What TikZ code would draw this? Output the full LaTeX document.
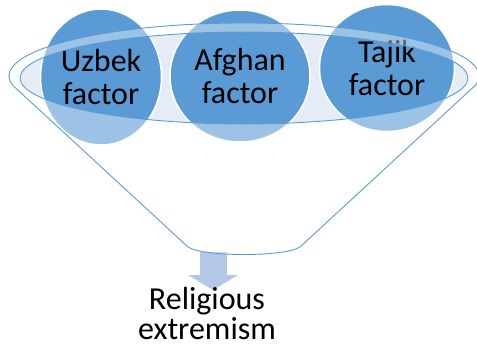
\documentclass[tikz,border=0pt]{standalone}
\usepackage{fontspec}
\setmainfont{Carlito}
\usetikzlibrary{shapes.geometric, arrows.meta}
\definecolor{factorblue}{RGB}{91,155,213}
\definecolor{rimfill}{RGB}{230,236,246}
\definecolor{arrowblue}{RGB}{180,199,231}

\begin{document}
\begin{tikzpicture}[x=1pt, y=-1pt,
    factor/.style={ellipse, draw=white, line width=1.5pt, fill=factorblue, inner sep=0pt,
      align=center, font=\fontsize{32}{33}\selectfont},
    rim/.style={draw=factorblue, line width=0.9pt}]
  \useasboundingbox (0,0) rectangle (477,349);

  % mouth of the funnel
  \fill[rimfill] (244,78) ellipse [x radius=224, y radius=46];

  \node[factor, minimum width=121pt, minimum height=136pt] (uzbek)  at (101,77) {Uzbek\\factor};
  \node[factor, minimum width=140pt, minimum height=132pt] (afghan) at (240,76) {Afghan\\factor};
  \node[factor, minimum width=135pt, minimum height=127pt] (tajik)  at (387,68) {Tajik\\factor};

  \coordinate (neck) at (213,252);
  \coordinate (tip)  at (213,290);
  \draw[arrowblue, line width=27pt, -{Triangle[length=15pt, width=50pt, line width=0pt]}] (neck) -- (tip);

  \node[font=\fontsize{32}{30}\selectfont, align=center, inner sep=0pt] (result) at (207,314) {Religious\\extremism};

  % glass of the funnel
  \fill[white, fill opacity=0.4, even odd rule]
    (12.6,85.2) arc[start angle=170, end angle=370, x radius=235, y radius=53]
    -- (300,247) .. controls (285,257) and (203,257) .. (188,247) -- cycle
    (244,78) ellipse [x radius=224, y radius=46];
  \draw[rim]
    (12.6,85.2) arc[start angle=170, end angle=370, x radius=235, y radius=53]
    -- (300,247) .. controls (285,257) and (203,257) .. (188,247) -- cycle;
  \draw[rim] (244,78) ellipse [x radius=224, y radius=46];
\end{tikzpicture}
\end{document}
